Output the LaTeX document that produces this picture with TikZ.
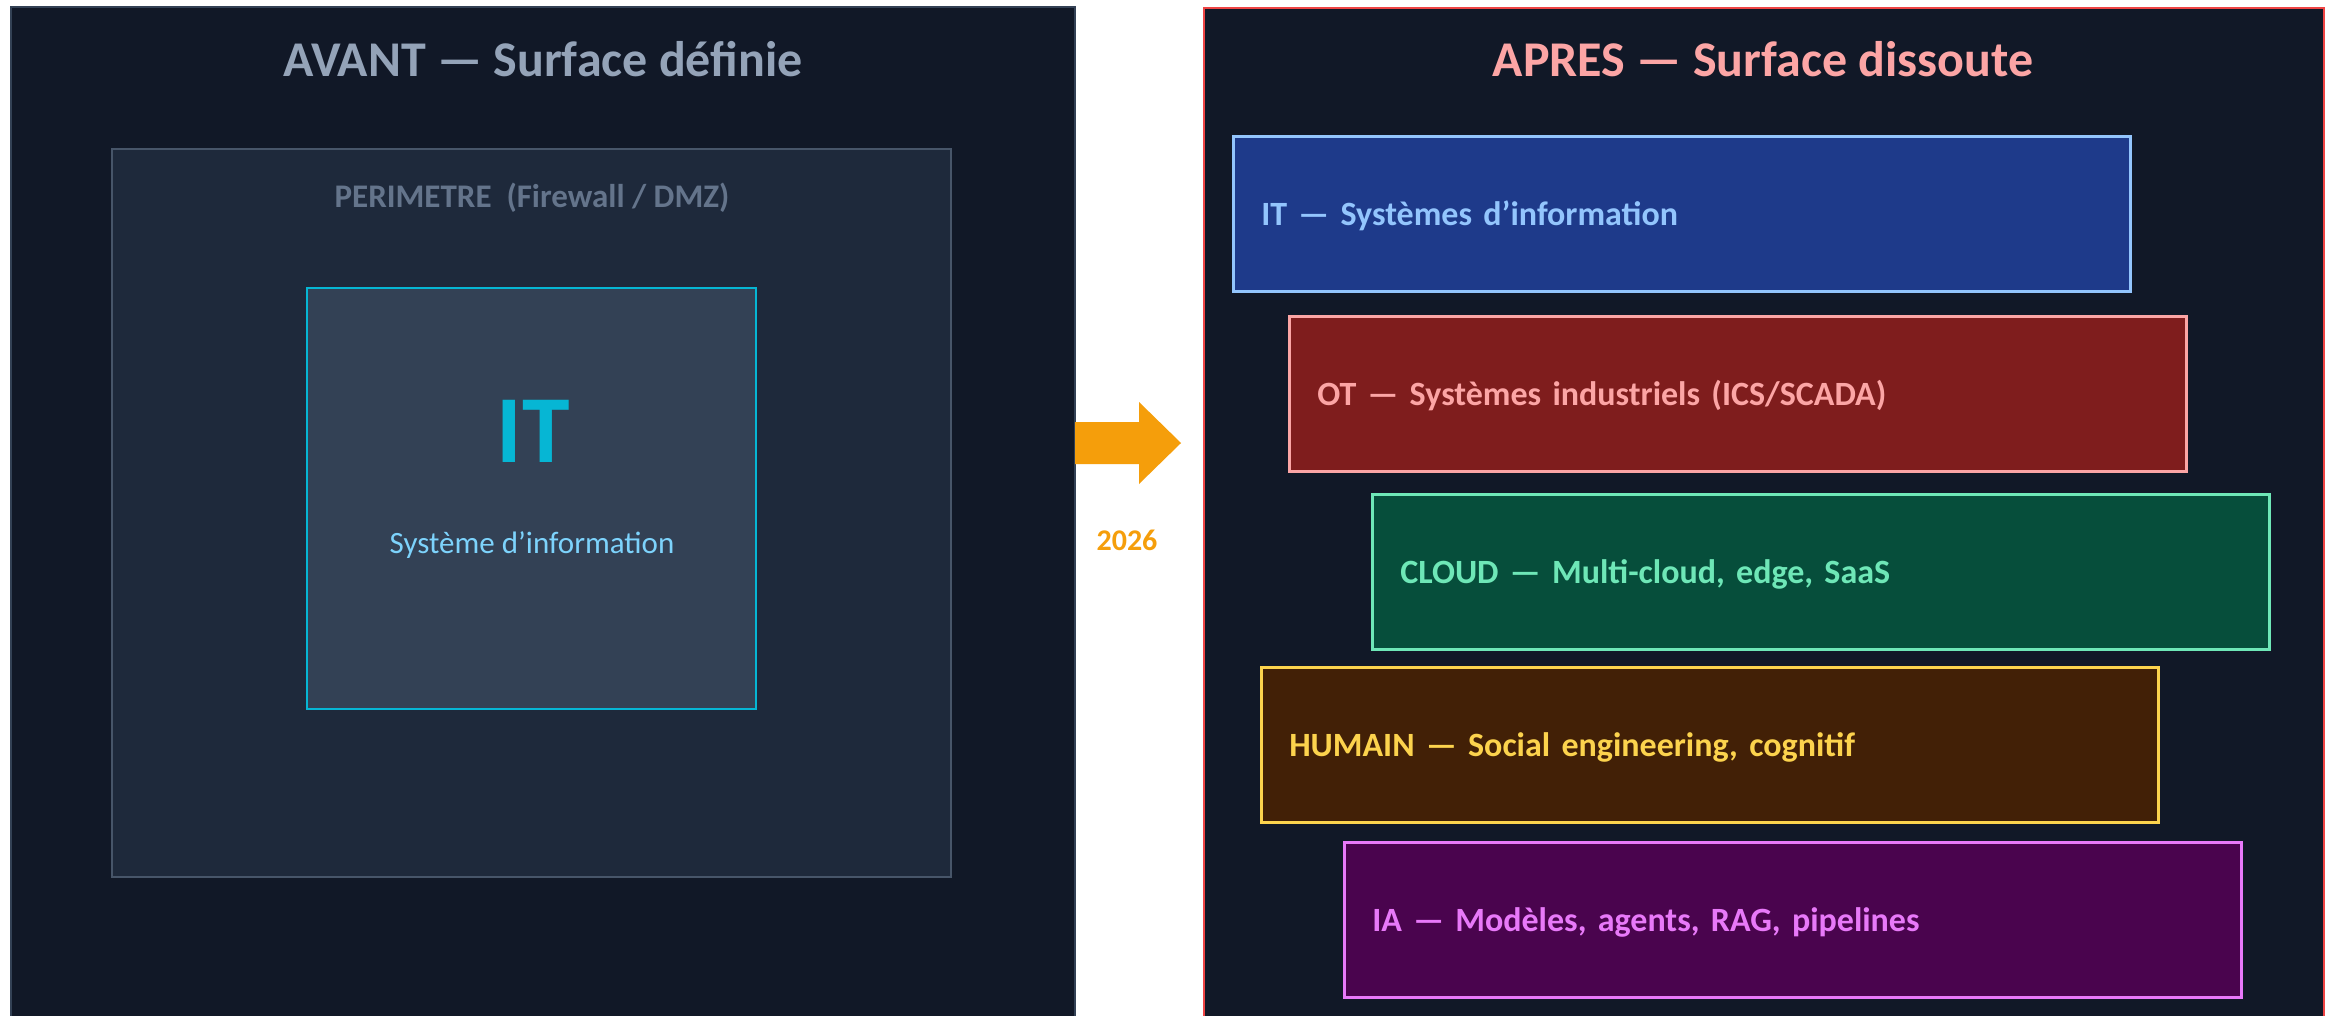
\documentclass[tikz,border=0pt]{standalone}
\usepackage{fontspec}
\setmainfont{Carlito}
\usetikzlibrary{positioning,calc}
\definecolor{panelbg}{HTML}{111827}
\definecolor{perifill}{HTML}{1E293B}
\definecolor{peridraw}{HTML}{475569}
\definecolor{itfill}{HTML}{334155}
\definecolor{itcyan}{HTML}{06B6D4}
\definecolor{itsub}{HTML}{7DD3FC}
\definecolor{titlegrey}{HTML}{94A3B8}
\definecolor{perigrey}{HTML}{64748B}
\definecolor{apresred}{HTML}{FCA5A5}
\definecolor{panelred}{HTML}{EF4444}
\definecolor{arroworange}{HTML}{F59E0B}
\definecolor{itbarfill}{HTML}{1E3A8A}
\definecolor{itbartext}{HTML}{93C5FD}
\definecolor{otfill}{HTML}{7F1D1D}
\definecolor{cloudfill}{HTML}{064E3B}
\definecolor{cloudtext}{HTML}{6EE7B7}
\definecolor{humfill}{HTML}{422006}
\definecolor{humtext}{HTML}{FCD34D}
\definecolor{iafill}{HTML}{4A044E}
\definecolor{iatext}{HTML}{E879F9}

\begin{document}
\begin{tikzpicture}[x=1pt,y=-1pt]
\tikzstyle{panel} = [draw, line width=2pt, fill=panelbg]
\tikzstyle{title} = [anchor=base, font=\fontsize{50}{54}\selectfont\bfseries]
 % one layer of the dissolved surface: fill, colour of border and text
\tikzset{layer/.style 2 args={draw=#2, text=#2, fill=#1, line width=2.5pt, anchor=north west, inner xsep=28pt, inner ysep=0pt, text width=841pt, minimum height=155pt, align=left, text height=23pt, text depth=0pt, font=\fontsize{34}{40}\selectfont\bfseries}}
\useasboundingbox[fill=white] (0,0) rectangle (2335,1015);
\clip (0,0) rectangle (2335,1015);

% AVANT
\draw[panel, draw=itfill] (11,7) rectangle (1075,1030);
\coordinate (avant-e) at (1075,443);
\node[title, text=titlegrey] (avant-title) at (543,76) {AVANT — Surface définie};
\draw[draw=peridraw, fill=perifill, line width=2pt] (112,149) rectangle (951,877);
\node[anchor=base, text=perigrey, font=\fontsize{33}{36}\selectfont\bfseries] (peri) at (532,207) {PERIMETRE~~(Firewall / DMZ)};
\draw[draw=itcyan, fill=itfill, line width=2.5pt] (307,288) rectangle (756,709);
\node[anchor=base, text=itcyan, font=\fontsize{96}{100}\selectfont\bfseries] (it-big) at (533,462) {IT};
\node[anchor=base, text=itsub, font=\fontsize{31}{34}\selectfont] (it-sub) at (532,553) {Système d’information};

% transition
\fill[arroworange] (avant-e) ++(0,-21) -- ++(64,0) -- ++(0,-20) -- ++(42,41) -- ++(-42,41) -- ++(0,-20) -- ++(-64,0) -- cycle;
\node[anchor=base, text=arroworange, font=\fontsize{30}{34}\selectfont\bfseries] (year) at (1127,550) {2026};

% APRES
\draw[panel, draw=panelred] (1204,8) rectangle (2324,1030);
\node[title, text=apresred] (apres-title) at (1763,76) {APRES — Surface dissoute};
\node[layer={itbarfill}{itbartext}] (l-it) at (1232,135) {IT — Systèmes d’information};
\node[layer={otfill}{apresred}] (l-ot) at (1288,315) {OT — Systèmes industriels (ICS/SCADA)};
\node[layer={cloudfill}{cloudtext}] (l-cloud) at (1371,493) {CLOUD — Multi-cloud, edge, SaaS};
\node[layer={humfill}{humtext}] (l-hum) at (1260,666) {HUMAIN — Social engineering, cognitif};
\node[layer={iafill}{iatext}] (l-ia) at (1343,841) {IA — Modèles, agents, RAG, pipelines};
\end{tikzpicture}
\end{document}
